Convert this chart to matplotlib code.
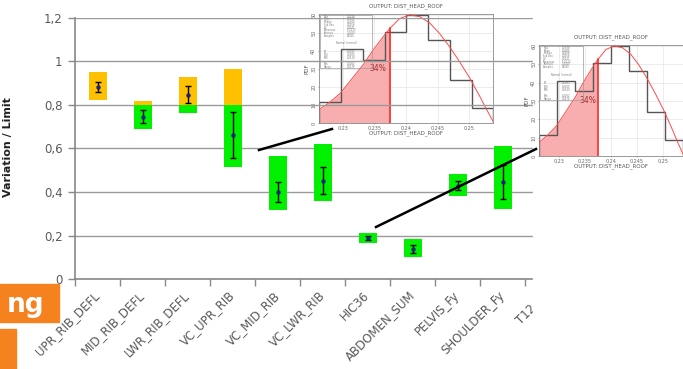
import matplotlib
matplotlib.use("Agg")
import matplotlib.pyplot as plt
from matplotlib.lines import Line2D
from matplotlib.patches import Rectangle
from matplotlib.ticker import FuncFormatter, MultipleLocator
import numpy as np

W, H = 683, 369

# load cases and their variation / limit ranges
categories = ['UPR_RIB_DEFL', 'MID_RIB_DEFL', 'LWR_RIB_DEFL', 'VC_UPR_RIB', 'VC_MID_RIB',
              'VC_LWR_RIB', 'HIC36', 'ABDOMEN_SUM', 'PELVIS_Fy', 'SHOULDER_Fy', 'T12_Fy']
range_min = [0.823, 0.691, 0.765, 0.513, 0.316, 0.359, 0.164, 0.100, 0.383, 0.323]
range_max = [0.950, 0.818, 0.927, 0.966, 0.566, 0.620, 0.213, 0.182, 0.481, 0.611]
mean_val = [0.881, 0.746, 0.846, 0.662, 0.398, 0.452, 0.189, 0.137, 0.429, 0.446]
err_low = [0.858, 0.717, 0.808, 0.556, 0.354, 0.391, 0.179, 0.121, 0.409, 0.368]
err_high = [0.907, 0.776, 0.887, 0.769, 0.448, 0.516, 0.198, 0.156, 0.452, 0.524]
LIMIT = 0.8

# head-to-roof distance distribution
hist_edges = [0.2262, 0.2297, 0.2331, 0.2366, 0.2400, 0.2435, 0.2469, 0.2504, 0.2538]
hist_pdf = [11.6, 40.8, 35.2, 50.5, 60.0, 46.3, 24.0, 8.6]
fit_x = [0.2262, 0.2279, 0.2296, 0.2313, 0.2332, 0.2348, 0.2363, 0.2374, 0.2390, 0.2406,
         0.2422, 0.2438, 0.2453, 0.2469, 0.2485, 0.2501, 0.2517, 0.2528, 0.2538]
fit_pdf = [7.4, 11.5, 16.6, 24.0, 32.3, 40.6, 47.5, 52.3, 58.0, 60.0,
           59.0, 55.4, 49.8, 42.4, 34.0, 25.0, 14.8, 7.4, 1.0]
target = 0.2375
share_label = '34%'
stats_names = ['Max', 'Mean', 'Median', 'Std Dev', 'CV', 'Skewness', 'Kurtosis', 'Samples',
               'P1', 'P50', 'P99', 'Min', 'Range']
stats_values = ['0.2538', '0.2405', '0.2406', '0.0058', '0.0241', '-0.1213', '2.4410', '25000',
                '0.2281', '0.2405', '0.2529', '0.2262', '0.0276']

GREEN = '#00f000'
GOLD = '#ffc000'
ORANGE = '#f5821f'
GRAY = '#595959'


def px(x0, y0, w, h):
    # pixel box (top-left origin) -> figure fraction rect
    return [x0 / W, 1 - (y0 + h) / H, w / W, h / H]


def draw_inset(ax):
    ax.set_facecolor('white')
    ax.grid(True, color='#e4e4e4', lw=0.5)
    ax.set_axisbelow(True)
    lo = [x for x in fit_x if x <= target]
    ax.fill_between(lo + [target], fit_pdf[:len(lo)] + [np.interp(target, fit_x, fit_pdf)],
                    color='#f8aeae', lw=0, zorder=1)
    ax.stairs(hist_pdf, hist_edges, color='#555555', lw=1.0, zorder=2)
    ax.plot(fit_x, fit_pdf, color='#ff4a4a', lw=0.7, zorder=3)
    ax.axvline(target, ymax=np.interp(target, fit_x, fit_pdf) / 60.5, color='#ff2020', lw=1.1, zorder=3)
    ax.text(0.2355, 30, share_label, fontsize=5.5, color='#9c3030', ha='center', va='center', zorder=4)
    ax.set_xlim(hist_edges[0], hist_edges[-1])
    ax.set_ylim(0, 60.5)
    ax.set_xticks([0.23, 0.235, 0.24, 0.245, 0.25])
    ax.set_xticklabels(['0.23', '0.235', '0.24', '0.245', '0.25'])
    ax.set_yticks(range(0, 61, 10))
    ax.tick_params(labelsize=3.5, colors='#666666', length=1, pad=1, width=0.4)
    for lab in ax.get_yticklabels():
        lab.set_rotation(90)
        lab.set_va('center')
    for s in ax.spines.values():
        s.set_color('#8a8a8a')
        s.set_linewidth(0.6)
    ax.set_title('OUTPUT: DIST_HEAD_ROOF', fontsize=4, color='#555555', pad=5)
    ax.set_xlabel('OUTPUT: DIST_HEAD_ROOF', fontsize=4, color='#555555', labelpad=0)
    ax.set_ylabel('PDF', fontsize=4, color='#555555', labelpad=1)
    # statistics table
    ax.add_patch(Rectangle((0.005, 0.505), 0.3, 0.49, transform=ax.transAxes,
                           fill=False, ec='#9a9a9a', lw=0.5, zorder=5))
    rows = list(np.linspace(0.975, 0.80, 8)) + [0.655, 0.625, 0.595, 0.54, 0.515]
    for n, v, yy in zip(stats_names, stats_values, rows):
        ax.text(0.03, yy, n, fontsize=1.8, color='#777777', transform=ax.transAxes, va='center', zorder=5)
        ax.text(0.16, yy, v, fontsize=1.8, color='#777777', transform=ax.transAxes, va='center', zorder=5)
    ax.text(0.155, 0.73, 'Normal (normal)', fontsize=1.8, color='#777777', transform=ax.transAxes,
            ha='center', va='center', zorder=5)


fig = plt.figure(figsize=(W / 100, H / 100), dpi=100)
fig.patch.set_facecolor('white')

# first distribution plot sits under the main chart
ins1 = fig.add_axes(px(319, 14, 174, 109), zorder=0)
draw_inset(ins1)

ax = fig.add_axes(px(75, 18, 608, 261), zorder=1)
ax.set_facecolor('none')
x = np.arange(len(range_min))
green_top = [min(h, LIMIT) for h in range_max]
gold_bot = [max(l, LIMIT) for l in range_min]
for i in x:
    if range_min[i] < LIMIT:
        ax.bar(i, green_top[i] - range_min[i], bottom=range_min[i], width=0.4, color=GREEN, zorder=2)
    if range_max[i] > LIMIT:
        ax.bar(i, range_max[i] - gold_bot[i], bottom=gold_bot[i], width=0.4, color=GOLD, zorder=2)
yerr = [np.array(mean_val) - np.array(err_low), np.array(err_high) - np.array(mean_val)]
ax.errorbar(x, mean_val, yerr=yerr, fmt='o', color='#1a237e', markersize=2.2,
            ecolor='black', elinewidth=1, capsize=2.2, capthick=1, zorder=3)

ax.set_ylim(0, 1.2)
ax.set_xlim(-0.5, -0.5 + 608 / 45)
ax.yaxis.set_major_locator(MultipleLocator(0.2))
ax.yaxis.set_major_formatter(FuncFormatter(lambda v, p: f'{v:.1f}'.rstrip('0').rstrip('.').replace('.', ',')))
ax.grid(axis='y', color='#9a9a9a', lw=1)
ax.set_axisbelow(True)
ax.set_xticks(np.arange(-0.5, 13, 1))
ax.set_xticklabels([])
# category names sit just left of each slot centre
ax.set_xticks(np.arange(len(categories)) - 0.1, minor=True)
ax.set_xticklabels(categories, minor=True, rotation=45, ha='right', va='top',
                   rotation_mode='anchor', fontsize=8.5, color=GRAY)
ax.tick_params(axis='x', which='minor', length=0, pad=7)
ax.tick_params(axis='both', which='major', color='#888888', length=5, width=1)
ax.tick_params(axis='y', labelsize=8.5, labelcolor=GRAY, pad=4)
for s in ['top', 'right']:
    ax.spines[s].set_visible(False)
for s in ['left', 'bottom']:
    ax.spines[s].set_color('#888888')
    ax.spines[s].set_linewidth(1.2)

fig.text(8 / W, 1 - 147 / H, 'Variation / Limit', rotation=90, fontsize=8, fontweight='bold',
         ha='center', va='center', color='#222222')

# second distribution plot on its own white panel
fig.add_artist(Rectangle((533 / W, 0), 150 / W, 1, transform=fig.transFigure,
                         color='white', zorder=2))
ins2 = fig.add_axes(px(539, 45, 144, 111), zorder=3)
draw_inset(ins2)

# connector lines from load cases to distribution plots
for (x1, y1), (x2, y2) in [((259, 150), (332, 129)), ((376, 227), (536, 149))]:
    fig.add_artist(Line2D([x1 / W, x2 / W], [1 - y1 / H, 1 - y2 / H], transform=fig.transFigure,
                          color='black', lw=1.8, zorder=4))

# slide header fragments
fig.add_artist(Rectangle((0, 1 - 322 / H), 59 / W, 38 / H, transform=fig.transFigure,
                         color=ORANGE, zorder=5))
fig.add_artist(Rectangle((0, 0), 16 / W, 40 / H, transform=fig.transFigure,
                         color=ORANGE, zorder=5))
fig.text(44 / W, 1 - 311.5 / H, 'ng', fontsize=19, fontweight='bold', color='white',
         ha='right', va='baseline', zorder=6)

fig.savefig('out.png', dpi=100)
